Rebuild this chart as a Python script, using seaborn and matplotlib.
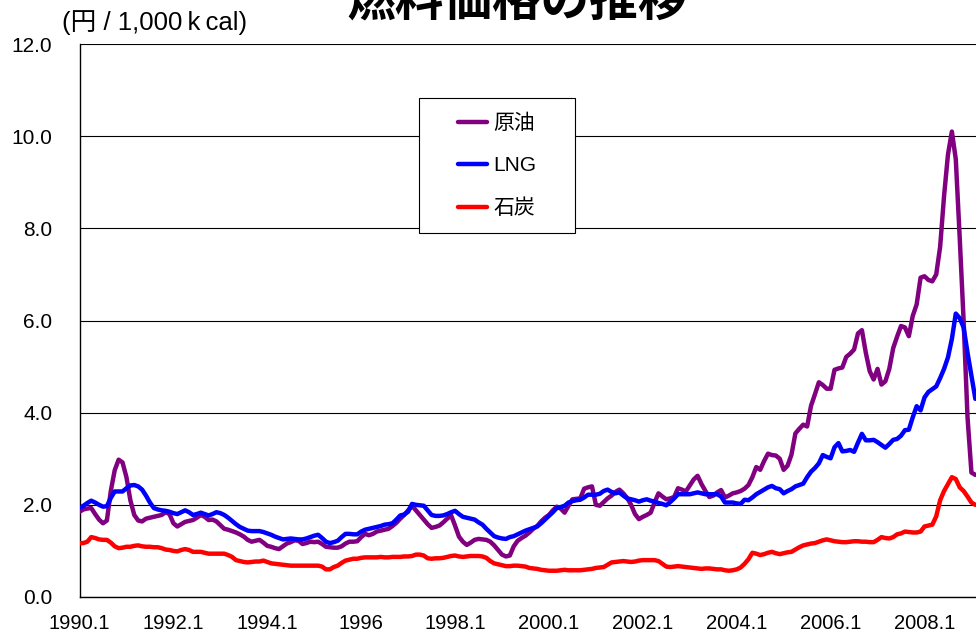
import numpy as np
import pandas as pd
import matplotlib
matplotlib.use("Agg")
import matplotlib.pyplot as plt
import matplotlib.patches as mpatches
import seaborn as sns

# ---- data (monthly, Jan 1990 onward; 円/1,000kcal) ----
series_names = ["原油", "LNG", "石炭"]
series_colors = ["#800080", "#0000FF", "#FF0000"]

crude_oil = [
    1.85, 1.90, 1.92, 1.93, 1.80, 1.68, 1.60, 1.66, 2.30, 2.75,
    2.98, 2.92, 2.60, 2.10, 1.78, 1.66, 1.64, 1.70, 1.72, 1.74,
    1.76, 1.78, 1.84, 1.80, 1.60, 1.53, 1.58, 1.63, 1.65, 1.67,
    1.72, 1.78, 1.74, 1.67, 1.68, 1.64, 1.56, 1.48, 1.46, 1.43,
    1.40, 1.36, 1.31, 1.24, 1.20, 1.22, 1.24, 1.18, 1.11, 1.09,
    1.06, 1.04, 1.10, 1.16, 1.19, 1.23, 1.22, 1.15, 1.17, 1.20,
    1.19, 1.20, 1.15, 1.09, 1.08, 1.07, 1.07, 1.10, 1.16, 1.20,
    1.20, 1.21, 1.30, 1.37, 1.34, 1.37, 1.42, 1.44, 1.46, 1.48,
    1.54, 1.61, 1.70, 1.78, 1.88, 1.98, 1.88, 1.78, 1.68, 1.58,
    1.50, 1.52, 1.55, 1.62, 1.70, 1.77, 1.55, 1.31, 1.20, 1.13,
    1.18, 1.24, 1.26, 1.25, 1.24, 1.20, 1.12, 1.02, 0.92, 0.88,
    0.90, 1.10, 1.22, 1.28, 1.33, 1.40, 1.48, 1.54, 1.64, 1.72,
    1.78, 1.88, 1.96, 1.92, 1.83, 1.98, 2.12, 2.13, 2.14, 2.35,
    2.38, 2.40, 2.00, 1.98, 2.06, 2.14, 2.20, 2.28, 2.33, 2.25,
    2.15, 2.00, 1.80, 1.69, 1.74, 1.78, 1.83, 2.05, 2.25, 2.18,
    2.12, 2.14, 2.17, 2.36, 2.33, 2.29, 2.42, 2.55, 2.63, 2.45,
    2.30, 2.17, 2.20, 2.27, 2.32, 2.16, 2.20, 2.25, 2.27, 2.30,
    2.35, 2.43, 2.60, 2.82, 2.76, 2.95, 3.11, 3.08, 3.07, 3.00,
    2.76, 2.85, 3.09, 3.55, 3.65, 3.74, 3.70, 4.15, 4.40, 4.66,
    4.60, 4.52, 4.52, 4.93, 4.96, 4.98, 5.21, 5.28, 5.37, 5.72,
    5.79, 5.30, 4.90, 4.72, 4.95, 4.61, 4.68, 4.95, 5.40, 5.65,
    5.88, 5.85, 5.66, 6.10, 6.35, 6.93, 6.96, 6.88, 6.85, 7.00,
    7.60, 8.70, 9.60, 10.10, 9.50, 7.80, 6.00, 3.90, 2.70, 2.65,
]

lng = [
    1.93, 1.98, 2.04, 2.09, 2.05, 2.00, 1.96, 1.97, 2.15, 2.29,
    2.29, 2.29, 2.36, 2.42, 2.43, 2.40, 2.33, 2.20, 2.05, 1.93,
    1.90, 1.88, 1.87, 1.85, 1.82, 1.80, 1.84, 1.88, 1.84, 1.78,
    1.80, 1.83, 1.80, 1.77, 1.80, 1.84, 1.82, 1.78, 1.72, 1.65,
    1.58, 1.52, 1.48, 1.44, 1.43, 1.43, 1.43, 1.41, 1.38, 1.35,
    1.31, 1.28, 1.25, 1.26, 1.27, 1.26, 1.25, 1.25, 1.27, 1.30,
    1.33, 1.35, 1.28, 1.20, 1.17, 1.19, 1.22, 1.30, 1.37, 1.37,
    1.36, 1.36, 1.42, 1.46, 1.48, 1.50, 1.52, 1.54, 1.57, 1.58,
    1.60, 1.68, 1.77, 1.79, 1.85, 2.02, 2.00, 1.99, 1.98, 1.88,
    1.78, 1.76, 1.76, 1.77, 1.80, 1.84, 1.87, 1.80, 1.74, 1.72,
    1.70, 1.68, 1.62, 1.57, 1.48, 1.40, 1.32, 1.29, 1.27, 1.26,
    1.30, 1.32, 1.36, 1.40, 1.44, 1.47, 1.50, 1.53, 1.60, 1.68,
    1.76, 1.84, 1.93, 1.95, 1.98, 2.05, 2.08, 2.10, 2.11, 2.16,
    2.22, 2.22, 2.22, 2.24, 2.30, 2.33, 2.28, 2.25, 2.27, 2.20,
    2.14, 2.12, 2.10, 2.07, 2.10, 2.12, 2.09, 2.07, 2.04, 2.02,
    1.99, 2.06, 2.14, 2.23, 2.23, 2.23, 2.23, 2.25, 2.27, 2.25,
    2.23, 2.23, 2.23, 2.23, 2.18, 2.05, 2.05, 2.05, 2.03, 2.02,
    2.11, 2.10, 2.16, 2.23, 2.28, 2.33, 2.38, 2.41, 2.36, 2.34,
    2.25, 2.30, 2.34, 2.40, 2.43, 2.46, 2.60, 2.72, 2.80, 2.90,
    3.08, 3.04, 3.01, 3.25, 3.34, 3.16, 3.17, 3.19, 3.15, 3.35,
    3.54, 3.40, 3.40, 3.41, 3.36, 3.30, 3.24, 3.32, 3.41, 3.43,
    3.50, 3.62, 3.63, 3.90, 4.14, 4.05, 4.33, 4.45, 4.51, 4.57,
    4.75, 4.95, 5.20, 5.60, 6.15, 6.05, 5.85, 5.30, 4.80, 4.30,
]

coal = [
    1.17, 1.17, 1.20, 1.30, 1.28, 1.25, 1.24, 1.24, 1.18, 1.10,
    1.06, 1.07, 1.09, 1.09, 1.11, 1.12, 1.10, 1.09, 1.09, 1.08,
    1.08, 1.06, 1.03, 1.02, 1.00, 0.99, 1.02, 1.04, 1.02, 0.98,
    0.98, 0.98, 0.96, 0.94, 0.94, 0.94, 0.94, 0.94, 0.91, 0.87,
    0.80, 0.78, 0.76, 0.75, 0.76, 0.77, 0.77, 0.79, 0.76, 0.73,
    0.72, 0.71, 0.70, 0.69, 0.68, 0.68, 0.68, 0.68, 0.68, 0.68,
    0.68, 0.68, 0.66, 0.60, 0.60, 0.65, 0.68, 0.74, 0.79, 0.81,
    0.83, 0.83, 0.85, 0.86, 0.86, 0.86, 0.86, 0.87, 0.86, 0.86,
    0.87, 0.87, 0.87, 0.88, 0.88, 0.89, 0.92, 0.92, 0.90, 0.84,
    0.83, 0.84, 0.84, 0.85, 0.87, 0.89, 0.90, 0.88, 0.87, 0.88,
    0.89, 0.89, 0.89, 0.88, 0.85, 0.78, 0.73, 0.71, 0.69, 0.67,
    0.67, 0.68, 0.68, 0.67, 0.66, 0.63, 0.62, 0.61, 0.59, 0.58,
    0.57, 0.57, 0.57, 0.58, 0.59, 0.58, 0.58, 0.58, 0.58, 0.59,
    0.60, 0.61, 0.63, 0.64, 0.65, 0.70, 0.75, 0.76, 0.77, 0.78,
    0.77, 0.76, 0.77, 0.79, 0.80, 0.80, 0.80, 0.80, 0.78, 0.72,
    0.66, 0.65, 0.66, 0.67, 0.66, 0.65, 0.64, 0.63, 0.62, 0.61,
    0.62, 0.62, 0.61, 0.60, 0.60, 0.58, 0.57, 0.58, 0.60, 0.64,
    0.72, 0.82, 0.96, 0.94, 0.91, 0.93, 0.96, 0.98, 0.95, 0.93,
    0.95, 0.97, 0.98, 1.03, 1.08, 1.12, 1.14, 1.16, 1.17, 1.20,
    1.23, 1.25, 1.23, 1.21, 1.20, 1.19, 1.19, 1.20, 1.21, 1.21,
    1.20, 1.20, 1.19, 1.19, 1.24, 1.30, 1.28, 1.27, 1.30, 1.36,
    1.38, 1.42, 1.41, 1.40, 1.40, 1.42, 1.53, 1.55, 1.57, 1.75,
    2.10, 2.30, 2.45, 2.60, 2.56, 2.38, 2.30, 2.18, 2.05, 2.00,
]

x_tick_months = [0, 24, 48, 72, 96, 120, 144, 168, 192, 216]
x_tick_labels = ["1990.1", "1992.1", "1994.1", "1996", "1998.1",
                 "2000.1", "2002.1", "2004.1", "2006.1", "2008.1"]
y_ticks = [0, 2, 4, 6, 8, 10, 12]

title_text = "燃料価格の推移"
unit_text = "(円 / 1,000\u2009k\u2009cal)"

# ---- build long table ----
frames = []
for name, vals in zip(series_names, [crude_oil, lng, coal]):
    frames.append(pd.DataFrame({"month": np.arange(len(vals)),
                                "value": vals, "fuel": name}))
df = pd.concat(frames, ignore_index=True)

sns.set_style("white")
plt.rcParams["font.family"] = ["Liberation Sans", "Noto Sans CJK JP"]
plt.rcParams["text.color"] = "black"
plt.rcParams["xtick.color"] = "black"
plt.rcParams["ytick.color"] = "black"
plt.rcParams["axes.labelcolor"] = "black"

W, H = 976, 639
fig = plt.figure(figsize=(W / 100, H / 100), dpi=100)
px_per_month = 3.912
x_max = 240
ax = fig.add_axes([79.5 / W, 42 / H, x_max * px_per_month / W, 553 / H])

palette = dict(zip(series_names, series_colors))
sns.lineplot(data=df, x="month", y="value", hue="fuel", hue_order=series_names,
             palette=palette, linewidth=3.2, ax=ax, legend=False, zorder=4)

ax.set_xlim(0, x_max)
ax.set_ylim(0, 12)
ax.set_xlabel("")
ax.set_ylabel("")

ax.set_yticks(y_ticks)
ax.set_yticklabels([f"{v:.1f}" for v in y_ticks], fontsize=15)
ax.tick_params(axis="y", length=0, pad=19.5, labelcolor="black")

ax.set_xticks(x_tick_months)
ax.set_xticklabels(x_tick_labels, fontsize=14.5)
ax.set_xticks(np.arange(0, x_max + 1), minor=True)
ax.tick_params(axis="x", which="both", direction="in", length=4, width=0.8,
               color="black", labelcolor="black", pad=12.5)

ax.yaxis.grid(True, color="black", linewidth=0.8)
ax.xaxis.grid(False)
ax.set_axisbelow(True)
for side in ["left", "bottom"]:
    ax.spines[side].set_color("black")
    ax.spines[side].set_linewidth(1.0)
ax.spines["top"].set_visible(False)
ax.spines["right"].set_visible(False)

# legend box
box = mpatches.Rectangle((419 / W, 1 - 233 / H), 156 / W, 135 / H,
                         transform=fig.transFigure, facecolor="white",
                         edgecolor="black", linewidth=0.8, zorder=3)
ax.add_patch(box)
handles = ax.get_lines()[:3]
leg = ax.legend(handles, series_names, loc="center",
                bbox_to_anchor=(497.5 / W, 1 - 166 / H),
                bbox_transform=fig.transFigure, frameon=False,
                fontsize=15, handlelength=1.4, handletextpad=0.3,
                labelspacing=1.1, borderpad=0, labelcolor="black")
leg.set_zorder(6)

fig.text(62 / W, 1 - 23 / H, unit_text, ha="left", va="center",
         fontsize=18.5, color="black")
fig.text(517 / W, 1 - 17 / H, title_text, ha="center", va="baseline",
         fontsize=35, fontweight="bold", color="black",
         family=["Noto Sans CJK JP", "DejaVu Sans"])

fig.savefig("out.png", dpi=100)
